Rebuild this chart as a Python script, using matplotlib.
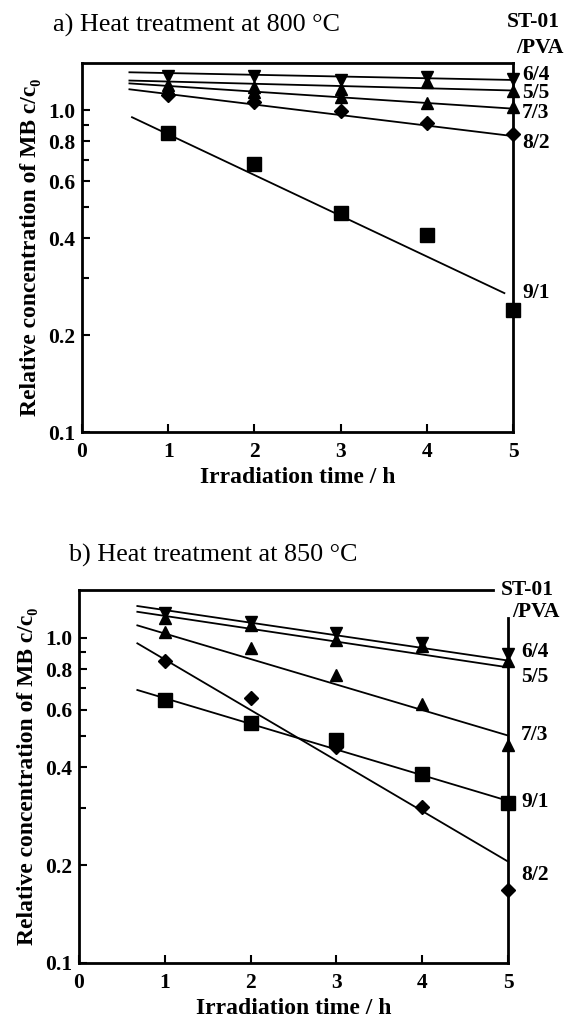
import matplotlib
matplotlib.use('Agg')
import matplotlib.pyplot as plt
from matplotlib.ticker import FixedLocator, NullFormatter

# irradiation times (h) and ST-01/PVA ratios
time_h = [1, 2, 3, 4, 5]
ratios = ['9/1', '8/2', '7/3', '6/4', '5/5']

# a) 800 C, relative concentration c/c0
a_91 = [0.85, 0.68, 0.48, 0.41, 0.24]
a_82 = [1.11, 1.06, 0.99, 0.91, 0.84]
a_73 = [1.17, 1.14, 1.10, 1.055, 1.02]
a_64 = [1.28, 1.28, 1.24, 1.27, 1.25]
a_55 = [1.20, 1.18, 1.16, 1.22, 1.15]

# fitted lines (start/end)
a_fit_x = [0.55, 5.0]
a_fit_x_91 = [0.58, 4.9]
a_fit_91 = [0.95, 0.27]
a_fit_82 = [1.16, 0.83]
a_fit_73 = [1.21, 1.01]
a_fit_64 = [1.31, 1.24]
a_fit_55 = [1.235, 1.15]

# b) 850 C
b_91 = [0.645, 0.547, 0.483, 0.38, 0.31]
b_82 = [0.847, 0.653, 0.461, 0.302, 0.168]
b_73 = [1.043, 0.927, 0.767, 0.624, 0.466]
b_64 = [1.19, 1.12, 1.03, 0.96, 0.89]
b_55 = [1.15, 1.09, 0.98, 0.94, 0.85]

b_fit_x = [0.68, 5.0]
b_fit_91 = [0.69, 0.315]
b_fit_82 = [0.96, 0.205]
b_fit_73 = [1.09, 0.50]
b_fit_64 = [1.25, 0.85]
b_fit_55 = [1.20, 0.81]

y_ticks = [0.1, 0.2, 0.4, 0.6, 0.8, 1.0]
y_tick_labels = ['0.1', '0.2', '0.4', '0.6', '0.8', '1.0']
y_minor = [0.3, 0.5, 0.7, 0.9]

plt.rcParams['font.family'] = ['Liberation Serif', 'DejaVu Serif']

W, H = 566, 1018
fig = plt.figure(figsize=(W / 100, H / 100), dpi=100)


def px(x, y):
    return x / W, 1 - y / H


markers = {'9/1': ('s', 10), '8/2': ('D', 7), '7/3': ('^', 8.5),
           '6/4': ('v', 9), '5/5': ('^', 8)}


def setup_axes(ax):
    ax.set_yscale('log')
    ax.set_xlim(0, 5)
    ax.set_ylim(0.1, 1.4)
    ax.yaxis.set_major_locator(FixedLocator(y_ticks))
    ax.set_yticklabels(y_tick_labels)
    ax.yaxis.set_minor_locator(FixedLocator(y_minor))
    ax.yaxis.set_minor_formatter(NullFormatter())
    ax.set_xticks(range(6))
    ax.set_xticklabels([str(i) for i in range(6)])
    ax.tick_params(direction='in', length=6, width=1.5, labelsize=15.5, pad=5)
    ax.tick_params(axis='x', pad=7)
    ax.tick_params(which='minor', direction='in', length=5, width=1.5)
    ax.tick_params(axis='y', right=False)
    for lab in ax.get_xticklabels() + ax.get_yticklabels():
        lab.set_fontweight('bold')
    for sp in ax.spines.values():
        sp.set_linewidth(2)
    ax.set_xlabel('Irradiation time / h', fontsize=17, fontweight='bold', labelpad=4)
    ax.set_ylabel('Relative concentration of MB c/c₀', fontsize=17,
                  fontweight='bold', labelpad=5)


def draw(ax, series, fits):
    for r in ratios:
        fx, fy = fits[r]
        ax.plot(fx, fy, color='black', lw=1.3, clip_on=False)
    for r in ratios:
        m, ms = markers[r]
        ax.plot(time_h, series[r], linestyle='none', marker=m, ms=ms,
                color='black', clip_on=False, zorder=5)


# ---- panel a ----
ax1 = fig.add_axes([82 / W, 1 - 432 / H, 431 / W, 369 / H])
setup_axes(ax1)
draw(ax1,
     {'9/1': a_91, '8/2': a_82, '7/3': a_73, '6/4': a_64, '5/5': a_55},
     {'9/1': (a_fit_x_91, a_fit_91), '8/2': (a_fit_x, a_fit_82),
      '7/3': (a_fit_x, a_fit_73), '6/4': (a_fit_x, a_fit_64),
      '5/5': (a_fit_x, a_fit_55)})

fig.text(*px(53, 25), 'a) Heat treatment at 800 °C', fontsize=18.8, va='center')
fig.text(*px(560, 22), 'ST-01', fontsize=15.5, fontweight='bold', va='center', ha='right')
fig.text(*px(564, 48), '/PVA', fontsize=15.5, fontweight='bold', va='center', ha='right')
a_label_y = {'6/4': 75, '5/5': 93, '7/3': 113, '8/2': 143, '9/1': 293}
for r, yy in a_label_y.items():
    fig.text(*px(522, yy), r, fontsize=15.5, fontweight='bold', va='center')

# ---- panel b ----
ax2 = fig.add_axes([79 / W, 1 - 963 / H, 429 / W, 373 / H])
setup_axes(ax2)
ax2.spines['right'].set_bounds(0.1, 1.15)
ax2.spines['top'].set_bounds(0, 4.83)
draw(ax2,
     {'9/1': b_91, '8/2': b_82, '7/3': b_73, '6/4': b_64, '5/5': b_55},
     {'9/1': (b_fit_x, b_fit_91), '8/2': (b_fit_x, b_fit_82),
      '7/3': (b_fit_x, b_fit_73), '6/4': (b_fit_x, b_fit_64),
      '5/5': (b_fit_x, b_fit_55)})

fig.text(*px(69, 555), 'b) Heat treatment at 850 °C', fontsize=18.8, va='center')
fig.text(*px(554, 590), 'ST-01', fontsize=15.5, fontweight='bold', va='center', ha='right')
fig.text(*px(560, 612), '/PVA', fontsize=15.5, fontweight='bold', va='center', ha='right')
b_label_y = {'6/4': 652, '5/5': 677, '7/3': 735, '9/1': 802, '8/2': 875}
for r, yy in b_label_y.items():
    fig.text(*px(521, yy), r, fontsize=15.5, fontweight='bold', va='center')

fig.savefig('out.png', dpi=100)
